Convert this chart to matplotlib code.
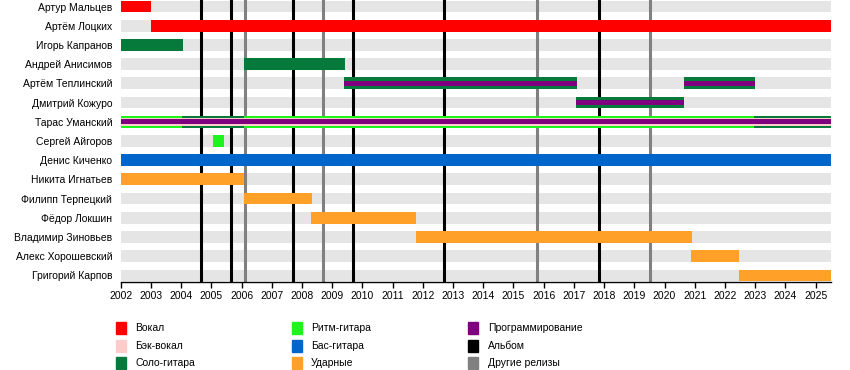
# imports
import matplotlib
matplotlib.use('Agg')
import matplotlib.pyplot as plt
from matplotlib.patches import Rectangle


# data
members = [
    'Артур Мальцев', 'Артём Лоцких', 'Игорь Капранов', 'Андрей Анисимов',
    'Артём Теплинский', 'Дмитрий Кожуро', 'Тарас Уманский', 'Сергей Айгоров',
    'Денис Киченко', 'Никита Игнатьев', 'Филипп Терпецкий', 'Фёдор Локшин',
    'Владимир Зиновьев', 'Алекс Хорошевский', 'Григорий Карпов',
]
startyear = 2002
endyear = 2025.5

# (member, role, start, end)
periods = [
    ('Артур Мальцев', 'Вокал', 2002, 2003.0),
    ('Артём Лоцких', 'Вокал', 2003.0, endyear),
    ('Игорь Капранов', 'Соло-гитара', 2002, 2004.06),
    ('Андрей Анисимов', 'Соло-гитара', 2006.07, 2009.42),
    ('Артём Теплинский', 'Соло-гитара', 2009.40, 2017.10),
    ('Артём Теплинский', 'Программирование', 2009.40, 2017.10),
    ('Артём Теплинский', 'Соло-гитара', 2020.63, 2023.0),
    ('Артём Теплинский', 'Программирование', 2020.63, 2023.0),
    ('Дмитрий Кожуро', 'Соло-гитара', 2017.08, 2020.64),
    ('Дмитрий Кожуро', 'Программирование', 2017.08, 2020.64),
    ('Тарас Уманский', 'Ритм-гитара', 2002, 2004.02),
    ('Тарас Уманский', 'Соло-гитара', 2004.02, 2006.09),
    ('Тарас Уманский', 'Ритм-гитара', 2006.09, 2022.96),
    ('Тарас Уманский', 'Соло-гитара', 2022.96, endyear),
    ('Тарас Уманский', 'Бэк-вокал', 2002, endyear),
    ('Тарас Уманский', 'Программирование', 2002, endyear),
    ('Сергей Айгоров', 'Ритм-гитара', 2005.07, 2005.42),
    ('Денис Киченко', 'Бас-гитара', 2002, endyear),
    ('Никита Игнатьев', 'Ударные', 2002, 2006.08),
    ('Филипп Терпецкий', 'Ударные', 2006.07, 2008.32),
    ('Фёдор Локшин', 'Ударные', 2008.31, 2011.77),
    ('Владимир Зиновьев', 'Ударные', 2011.77, 2020.90),
    ('Алекс Хорошевский', 'Ударные', 2020.89, 2022.48),
    ('Григорий Карпов', 'Ударные', 2022.47, endyear),
]

albums = [2004.66, 2005.64, 2007.70, 2009.69, 2012.70, 2017.83]
otherreleases = [2006.11, 2008.69, 2015.79, 2019.52]

legendlabels = [
    'Вокал', 'Бэк-вокал', 'Соло-гитара',
    'Ритм-гитара', 'Бас-гитара', 'Ударные',
    'Программирование', 'Альбом', 'Другие релизы',
]


# params
_colors = {
    'Вокал': '#ff0000',
    'Бэк-вокал': '#ffcccc',
    'Соло-гитара': '#057a3a',
    'Ритм-гитара': '#1cf41c',
    'Бас-гитара': '#0066cc',
    'Ударные': '#ffa028',
    'Программирование': '#7e007e',
    'Альбом': '#000000',
    'Другие релизы': '#808080',
}
_bgcolor = '#e5e5e5'
_barh = 0.61
_widthfrac = {'Бэк-вокал': 0.68, 'Программирование': 0.42}  # inner stripes
_layer = {'Бэк-вокал': 1, 'Программирование': 2}
_fs = 7.5
_W, _H = 850, 370

plt.rcParams['font.family'] = ['Liberation Sans', 'DejaVu Sans']


# figure creation
fig = plt.figure(figsize=(_W/100, _H/100), dpi=100)
axleft, axright, axtop, axbot = 120.7, 830.7, 0, 281.7
ax = fig.add_axes([axleft/_W, 1 - axbot/_H,
                   (axright - axleft)/_W, (axbot - axtop)/_H])
ax.set_xlim(startyear, endyear)
ax.set_ylim(len(members) - 1 + 0.33, -0.34)

# background bars
for i, name in enumerate(members):
    ax.barh(i, endyear - startyear, left=startyear, height=_barh,
            color=_bgcolor, zorder=1)

# release lines
for x in albums:
    ax.axvline(x, color=_colors['Альбом'], lw=2.2, zorder=2)
for x in otherreleases:
    ax.axvline(x, color=_colors['Другие релизы'], lw=2.2, zorder=2)

# member bars, full width first, then inner stripes
for name, role, start, end in sorted(periods, key=lambda p: _layer.get(p[1], 0)):
    i = members.index(name)
    ax.barh(i, end - start, left=start,
            height=_barh * _widthfrac.get(role, 1.0),
            color=_colors[role], zorder=3 + _layer.get(role, 0))

# axes styling
for side in ['top', 'right', 'left']:
    ax.spines[side].set_visible(False)
ax.spines['bottom'].set_linewidth(1.0)
ax.set_xticks(range(2002, 2026))
ax.tick_params(axis='x', length=4, width=1, labelsize=_fs, pad=3)
ax.set_yticks(range(len(members)))
ax.set_yticklabels(members)
ax.tick_params(axis='y', length=0, labelsize=_fs, pad=6)

# legend, drawn in pixel coordinates
legax = fig.add_axes([0, 0, 1, 1])
legax.set_xlim(0, _W)
legax.set_ylim(_H, 0)
legax.axis('off')
_colx = [116, 291.7, 468.3]
_rowy = [328.3, 345.8, 362.8]
for k, label in enumerate(legendlabels):
    x0 = _colx[k // 3]
    y0 = _rowy[k % 3]
    legax.add_patch(Rectangle((x0, y0 - 6), 10, 12, color=_colors[label]))
    legax.text(x0 + 19.5, y0, label, fontsize=_fs, va='center', ha='left')

fig.savefig('out.png', dpi=100)
